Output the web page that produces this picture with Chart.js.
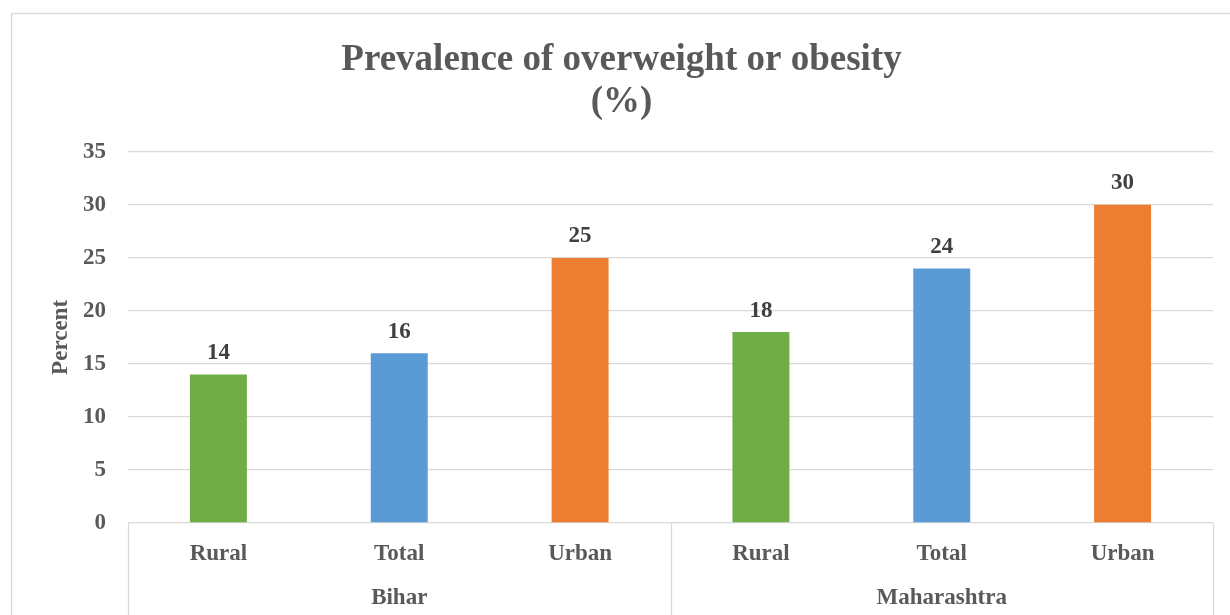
<!DOCTYPE html>
<html>
<head>
<meta charset="utf-8">
<script src="https://cdn.jsdelivr.net/npm/chart.js@4/dist/chart.umd.min.js"></script>
<style>
  html, body { margin: 0; padding: 0; background: #ffffff; }
  #wrap { width: 1230px; height: 615px; position: relative; }
</style>
</head>
<body>
<div id="wrap"><canvas id="c" width="1230" height="615"></canvas></div>
<script>
const titleLines = ['Prevalence of overweight or obesity', '(%)'];
const yAxisTitle = 'Percent';
const groups = ['Bihar', 'Maharashtra'];
const subCategories = ['Rural', 'Total', 'Urban', 'Rural', 'Total', 'Urban'];
const values = [14, 16, 25, 18, 24, 30];
const barColors = ['#70AD47', '#5B9BD5', '#ED7D31', '#70AD47', '#5B9BD5', '#ED7D31'];
const yTicks = [0, 5, 10, 15, 20, 25, 30, 35];

const FONT = '"Liberation Serif", "Times New Roman", serif';
const TXT = '#595959';
const GRID = '#d9d9d9';

const framePlugin = {
  id: 'frame',
  beforeDraw(chart) {
    const ctx = chart.ctx;
    ctx.save();
    ctx.fillStyle = '#ffffff';
    ctx.fillRect(0, 0, chart.width, chart.height);
    ctx.strokeStyle = GRID;
    ctx.lineWidth = 1.3;
    ctx.strokeRect(11.5, 13.5, 1300, 700);
    ctx.restore();
  }
};

const extrasPlugin = {
  id: 'extras',
  afterDraw(chart) {
    const ctx = chart.ctx;
    const xs = chart.scales.x;
    const area = chart.chartArea;
    ctx.save();
    // data labels
    const meta = chart.getDatasetMeta(0);
    ctx.font = 'bold 23px ' + FONT;
    ctx.fillStyle = '#404040';
    ctx.textAlign = 'center';
    ctx.textBaseline = 'alphabetic';
    meta.data.forEach((bar, i) => {
      ctx.fillText(String(values[i]), bar.x, bar.y - 15.5);
    });
    // category separators
    ctx.strokeStyle = GRID;
    ctx.lineWidth = 1.3;
    const per = subCategories.length / groups.length;
    const bounds = [area.left];
    for (let g = 1; g < groups.length; g++) {
      bounds.push((xs.getPixelForValue(g * per - 1) + xs.getPixelForValue(g * per)) / 2);
    }
    bounds.push(area.right);
    bounds.forEach(bx => {
      ctx.beginPath();
      ctx.moveTo(Math.round(bx) + 0.5, area.bottom);
      ctx.lineTo(Math.round(bx) + 0.5, chart.height);
      ctx.stroke();
    });
    // group labels
    ctx.fillStyle = TXT;
    ctx.font = 'bold 23px ' + FONT;
    groups.forEach((g, gi) => {
      const cx = (xs.getPixelForValue(gi * per) + xs.getPixelForValue(gi * per + per - 1)) / 2;
      ctx.fillText(g, cx, 604);
    });
    ctx.restore();
  }
};

new Chart(document.getElementById('c'), {
  type: 'bar',
  data: {
    labels: subCategories,
    datasets: [{
      data: values,
      backgroundColor: barColors,
      borderWidth: 0,
      barPercentage: 0.315,
      categoryPercentage: 1.0
    }]
  },
  options: {
    responsive: false,
    animation: false,
    devicePixelRatio: 1,
    layout: { padding: { left: 30, right: 17, top: 0, bottom: 0 } },
    plugins: {
      legend: { display: false },
      tooltip: { enabled: false },
      title: {
        display: true,
        text: titleLines,
        color: TXT,
        font: { family: FONT, size: 37, weight: 'bold', lineHeight: 1.16 },
        padding: { top: 38.5, bottom: 27.5 }
      }
    },
    scales: {
      x: {
        grid: { display: false },
        border: { display: false },
        ticks: {
          color: TXT,
          font: { family: FONT, size: 23, weight: 'bold' },
          padding: 9,
          maxRotation: 0,
          autoSkip: false
        },
        afterFit(scale) { scale.height = 92; }
      },
      y: {
        min: 0,
        max: 35,
        afterBuildTicks(scale) { scale.ticks = yTicks.map(v => ({ value: v })); },
        grid: { color: GRID, lineWidth: 1.3, drawTicks: false },
        border: { display: false },
        ticks: {
          color: TXT,
          font: { family: FONT, size: 23, weight: 'bold' },
          padding: 22
        },
        title: {
          display: true,
          text: yAxisTitle,
          color: TXT,
          font: { family: FONT, size: 23, weight: 'bold' },
          padding: { top: 17, bottom: 0 }
        },
        afterFit(scale) { scale.width = 98; }
      }
    }
  },
  plugins: [framePlugin, extrasPlugin]
});
</script>
</body>
</html>
